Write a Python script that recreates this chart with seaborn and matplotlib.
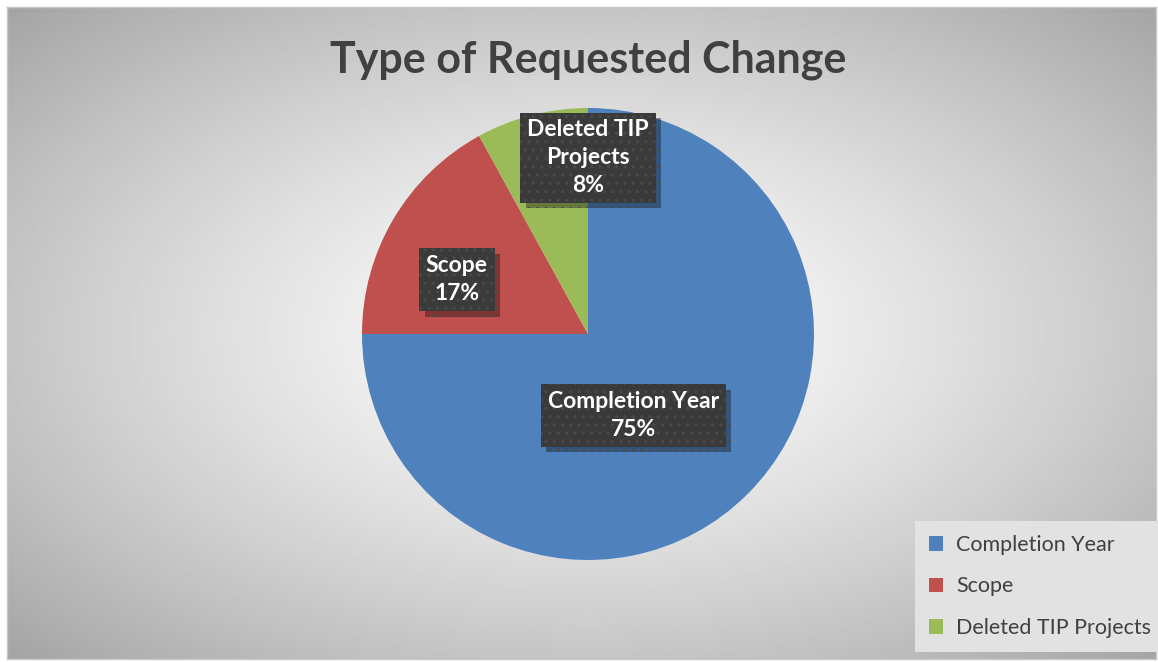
import numpy as np
import matplotlib.pyplot as plt
import matplotlib.patheffects as pe
import seaborn as sns

# data
categories = ["Completion Year", "Scope", "Deleted TIP Projects"]
shares = [75, 17, 8]
label_names = ["Completion Year", "Scope", "Deleted TIP\nProjects"]
colors = ["#4F81BD", "#C0504D", "#9BBB59"]

sns.set_theme(style="white")
plt.rcParams['font.family'] = ['Lato', 'DejaVu Sans']

W, H = 1158, 662
fig = plt.figure(figsize=(W / 100, H / 100), dpi=100)
fig.patch.set_facecolor("white")

# radial gradient background in the chart area
bg = fig.add_axes([7 / W, 3 / H, 1149 / W, 652 / H])
yy, xx = np.mgrid[0:1:400j, 0:1:700j]
r = np.sqrt(((xx - 0.505) / 0.62) ** 2 + ((yy - 0.5) / 0.62) ** 2)
shade = np.clip(1.0 - 0.30 * r ** 1.3, 0, 1)
bg.imshow(shade, cmap="gray", vmin=0, vmax=1, aspect="auto", extent=[0, 1, 0, 1])
bg.set_xticks([])
bg.set_yticks([])
for s in bg.spines.values():
    s.set_color("#c8c8c8")
    s.set_linewidth(1)

# pie
cx, cy, R = 588, 334, 226
ax = fig.add_axes([(cx - R) / W, (H - cy - R) / H, 2 * R / W, 2 * R / H])
wedges, _ = ax.pie(shares, colors=colors, startangle=90, counterclock=False,
                   radius=1.0, wedgeprops=dict(linewidth=0))
ax.set_xlim(-1, 1)
ax.set_ylim(-1, 1)
ax.set_aspect("equal")
ax.axis("off")

# data labels (offsets relative to the pie, in radius units)
label_pos = [(0.20, -0.36), (-0.58, 0.24), (0.0, 0.78)]
for (lx, ly), name, v in zip(label_pos, label_names, shares):
    t = ax.text(lx, ly, f"{name}\n{v}%", ha="center", va="center", fontsize=16.5,
                fontweight="bold", color="white", linespacing=1.4,
                bbox=dict(boxstyle="square,pad=0.3", facecolor="#3a3a3a",
                          edgecolor="#4a4a4a", hatch="..", linewidth=0), zorder=5)
    t.get_bbox_patch().set_path_effects(
        [pe.SimplePatchShadow(offset=(4, -4), shadow_rgbFace="black", alpha=0.35),
         pe.Normal()])

fig.text(cx / W, (H - 60) / H, "Type of Requested Change", ha="center", va="center",
         fontsize=31, fontweight="bold", color="#404040")

leg = fig.legend(wedges, categories, loc="lower right",
                 bbox_to_anchor=(1165 / W, 10 / H), borderaxespad=0,
                 frameon=True, fontsize=15.5,
                 labelcolor="#404040", handlelength=0.65, handleheight=0.65,
                 handletextpad=0.6, labelspacing=1.0, borderpad=0.65,
                 fancybox=False)
leg.get_frame().set_facecolor("#e2e2e2")
leg.get_frame().set_edgecolor("none")
leg.get_frame().set_alpha(1)

fig.savefig("out.png", dpi=100)
